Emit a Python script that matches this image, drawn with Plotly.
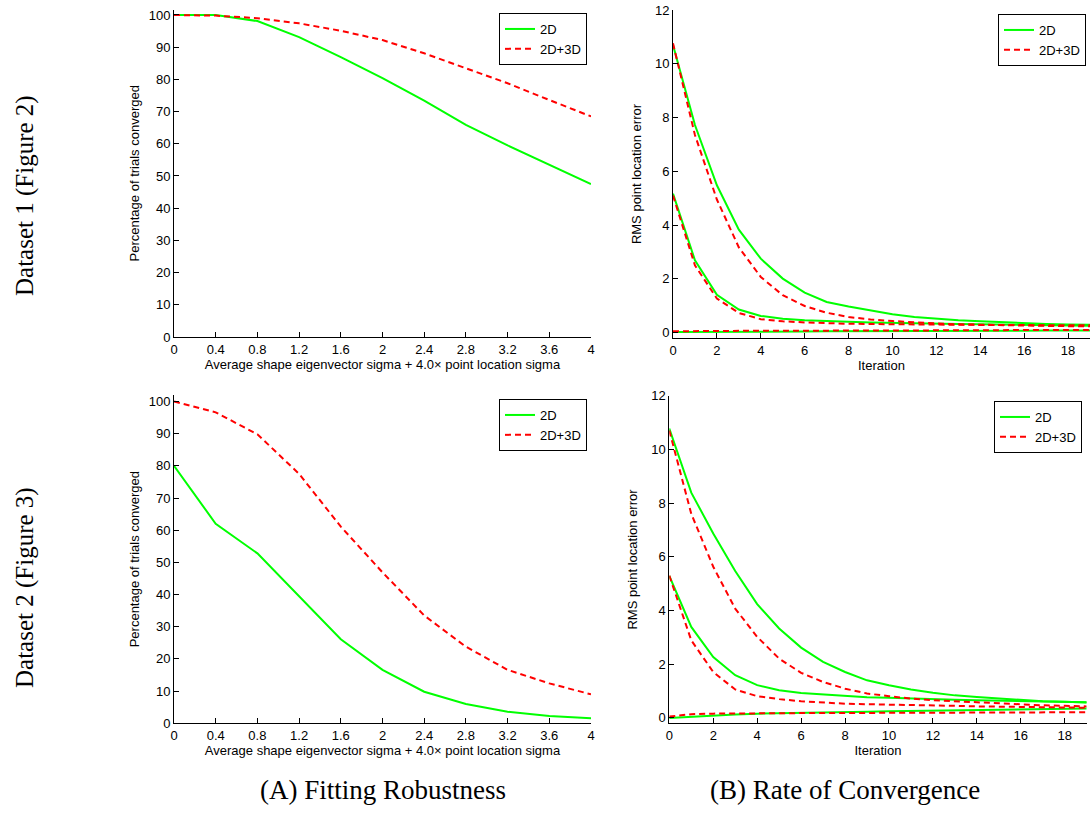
import plotly.graph_objects as go

# ---------------- data ----------------
sigma = [0, 0.4, 0.8, 1.2, 1.6, 2.0, 2.4, 2.8, 3.2, 3.6, 4.0]
rob1_2d = [100, 100, 98.1, 93.1, 86.9, 80.4, 73.4, 65.9, 59.5, 53.5, 47.5]
rob1_3d = [100, 99.8, 99.0, 97.4, 95.1, 92.2, 88.1, 83.5, 78.8, 73.6, 68.5]
rob2_2d = [80.0, 62.0, 52.8, 39.6, 26.1, 16.6, 9.8, 6.0, 3.6, 2.3, 1.6]
rob2_3d = [100, 96.6, 89.8, 77.5, 61.1, 46.9, 33.5, 23.8, 16.6, 12.4, 9.0]

iters = list(range(20))
# Dataset 1 convergence (three starting errors each)
c1_2d_hi = [10.7, 7.72, 5.48, 3.83, 2.75, 2.01, 1.49, 1.14, 0.97, 0.83, 0.68, 0.58,
            0.51, 0.46, 0.42, 0.38, 0.35, 0.32, 0.30, 0.29]
c1_3d_hi = [10.76, 7.35, 4.95, 3.17, 2.07, 1.39, 0.99, 0.74, 0.58, 0.49, 0.43, 0.38,
            0.34, 0.31, 0.29, 0.27, 0.26, 0.25, 0.24, 0.24]
c1_2d_mid = [5.17, 2.69, 1.41, 0.86, 0.62, 0.52, 0.46, 0.42, 0.40, 0.38, 0.36, 0.34,
             0.33, 0.32, 0.31, 0.30, 0.29, 0.28, 0.27, 0.26]
c1_3d_mid = [5.1, 2.5, 1.27, 0.73, 0.50, 0.42, 0.38, 0.35, 0.33, 0.32, 0.31, 0.30,
             0.30, 0.29, 0.29, 0.28, 0.28, 0.28, 0.27, 0.27]
c1_2d_lo = [0.02, 0.02, 0.03, 0.03, 0.04, 0.04, 0.04, 0.05, 0.05, 0.05, 0.06, 0.06,
            0.06, 0.07, 0.07, 0.07, 0.07, 0.08, 0.08, 0.08]
c1_3d_lo = [0.05, 0.06, 0.06, 0.06, 0.07, 0.07, 0.07, 0.07, 0.08, 0.08, 0.08, 0.08,
            0.09, 0.09, 0.09, 0.09, 0.10, 0.10, 0.10, 0.10]
# Dataset 2 convergence
c2_2d_hi = [10.78, 8.39, 6.87, 5.47, 4.24, 3.33, 2.62, 2.09, 1.71, 1.40, 1.22, 1.06,
            0.94, 0.84, 0.78, 0.72, 0.66, 0.62, 0.60, 0.57]
c2_3d_hi = [10.7, 7.6, 5.63, 4.07, 3.02, 2.21, 1.68, 1.34, 1.09, 0.91, 0.81, 0.72,
            0.66, 0.62, 0.57, 0.53, 0.50, 0.47, 0.45, 0.43]
c2_2d_mid = [5.29, 3.39, 2.27, 1.59, 1.22, 1.03, 0.93, 0.87, 0.81, 0.77, 0.75, 0.72,
             0.70, 0.68, 0.66, 0.64, 0.62, 0.60, 0.59, 0.58]
c2_3d_mid = [5.3, 2.89, 1.71, 1.06, 0.81, 0.70, 0.62, 0.57, 0.53, 0.51, 0.50, 0.48,
             0.46, 0.45, 0.43, 0.42, 0.41, 0.40, 0.39, 0.38]
c2_2d_lo = [0.0, 0.05, 0.10, 0.13, 0.16, 0.17, 0.18, 0.20, 0.22, 0.23, 0.25, 0.26,
            0.27, 0.28, 0.29, 0.30, 0.31, 0.32, 0.34, 0.35]
c2_3d_lo = [0.05, 0.14, 0.16, 0.17, 0.17, 0.18, 0.18, 0.18, 0.19, 0.19, 0.19, 0.19,
            0.20, 0.20, 0.20, 0.20, 0.21, 0.21, 0.21, 0.21]

sigma_ticks = [0, 0.4, 0.8, 1.2, 1.6, 2, 2.4, 2.8, 3.2, 3.6, 4]
sigma_ticktext = ["0", "0.4", "0.8", "1.2", "1.6", "2", "2.4", "2.8", "3.2", "3.6", "4"]

GREEN = "#00ff00"
RED = "#ff0000"
FONT = "Liberation Sans, Arial, sans-serif"
SERIF = "Liberation Serif, Times New Roman, serif"

fig = go.Figure()

def add_pair(xs, ys2d_list, ys3d_list, xa, ya, leg):
    for i, ys in enumerate(ys2d_list):
        fig.add_trace(go.Scatter(x=xs, y=ys, mode="lines", name="2D",
                                 line=dict(color=GREEN, width=2),
                                 xaxis=xa, yaxis=ya, legend=leg,
                                 showlegend=(i == 0), legendgroup=leg + "a"))
    for i, ys in enumerate(ys3d_list):
        fig.add_trace(go.Scatter(x=xs, y=ys, mode="lines", name="2D+3D",
                                 line=dict(color=RED, width=2, dash="6px,4px"),
                                 xaxis=xa, yaxis=ya, legend=leg,
                                 showlegend=(i == 0), legendgroup=leg + "b"))

add_pair(sigma, [rob1_2d], [rob1_3d], "x", "y", "legend")
add_pair(iters, [c1_2d_hi, c1_2d_mid, c1_2d_lo], [c1_3d_hi, c1_3d_mid, c1_3d_lo], "x2", "y2", "legend2")
add_pair(sigma, [rob2_2d], [rob2_3d], "x3", "y3", "legend3")
add_pair(iters, [c2_2d_hi, c2_2d_mid, c2_2d_lo], [c2_3d_hi, c2_3d_mid, c2_3d_lo], "x4", "y4", "legend4")

W, H = 1091, 813

def fx(px):
    return px / W

def fy(py):
    return 1 - py / H

axis_common = dict(showgrid=False, zeroline=False, showline=True, linecolor="black",
                   linewidth=1, ticks="inside", ticklen=5, tickcolor="black",
                   automargin=False,
                   tickfont=dict(family=FONT, size=13, color="black"), mirror=False)

tf = dict(family=FONT, size=13, color="black")

layout = dict(
    width=W, height=H, margin=dict(l=0, r=0, t=0, b=0, pad=0, autoexpand=False),
    paper_bgcolor="white", plot_bgcolor="white", showlegend=True,
    xaxis=dict(axis_common, domain=[fx(174), fx(591)], range=[0, 4], anchor="y",
               tickvals=sigma_ticks, ticktext=sigma_ticktext,
               title=dict(text="Average shape eigenvector sigma + 4.0\u00d7 point location sigma",
                          font=tf, standoff=1)),
    yaxis=dict(axis_common, domain=[fy(337), fy(9.5)], range=[0, 101.7], anchor="x",
               tickvals=list(range(0, 101, 10)),
               title=dict(text="Percentage of trials converged", font=tf, standoff=6)),
    xaxis2=dict(axis_common, domain=[fx(673), fx(1090)], range=[0, 19], anchor="y2",
                tickvals=list(range(0, 19, 2)),
                title=dict(text="Iteration", font=tf, standoff=1)),
    yaxis2=dict(axis_common, domain=[fy(338), fy(10)], range=[-0.2, 12], anchor="x2",
                tickvals=list(range(0, 13, 2)),
                title=dict(text="RMS point location error", font=tf, standoff=10)),
    xaxis3=dict(axis_common, domain=[fx(174), fx(591)], range=[0, 4], anchor="y3",
                tickvals=sigma_ticks, ticktext=sigma_ticktext,
                title=dict(text="Average shape eigenvector sigma + 4.0\u00d7 point location sigma",
                           font=tf, standoff=1)),
    yaxis3=dict(axis_common, domain=[fy(723.3), fy(395)], range=[0, 102], anchor="x3",
                tickvals=list(range(0, 101, 10)),
                title=dict(text="Percentage of trials converged", font=tf, standoff=6)),
    xaxis4=dict(axis_common, domain=[fx(669.3), fx(1086.7)], range=[0, 19], anchor="y4",
                tickvals=list(range(0, 19, 2)),
                title=dict(text="Iteration", font=tf, standoff=1)),
    yaxis4=dict(axis_common, domain=[fy(723.3), fy(395.7)], range=[-0.2, 12], anchor="x4",
                tickvals=list(range(0, 13, 2)),
                title=dict(text="RMS point location error", font=tf, standoff=10)),
)

def legend_at(xr, yt):
    return dict(x=fx(xr), y=fy(yt), xanchor="right", yanchor="top",
                bgcolor="white", bordercolor="black", borderwidth=1,
                font=dict(family=FONT, size=13, color="black"),
                tracegroupgap=0, itemwidth=30, traceorder="normal")

layout["legend"] = legend_at(587, 13)
layout["legend2"] = legend_at(1086, 14)
layout["legend3"] = legend_at(587, 399)
layout["legend4"] = legend_at(1082, 401)

fig.update_layout(**layout)

annots = [
    dict(text="Dataset 1 (Figure 2)", x=fx(25), y=fy(196), textangle=-90, size=25),
    dict(text="Dataset 2 (Figure 3)", x=fx(25), y=fy(588), textangle=-90, size=25),
    dict(text="(A) Fitting Robustness", x=fx(383), y=fy(790), textangle=0, size=27),
    dict(text="(B) Rate of Convergence", x=fx(845), y=fy(790), textangle=0, size=27),
]
for a in annots:
    sz = a.pop("size")
    fig.add_annotation(xref="paper", yref="paper", showarrow=False,
                       xanchor="center", yanchor="middle",
                       font=dict(family=SERIF, size=sz, color="black"), **a)

fig.write_html("out.html", config={"displayModeBar": False},
               post_script="document.body.style.margin='0';")
